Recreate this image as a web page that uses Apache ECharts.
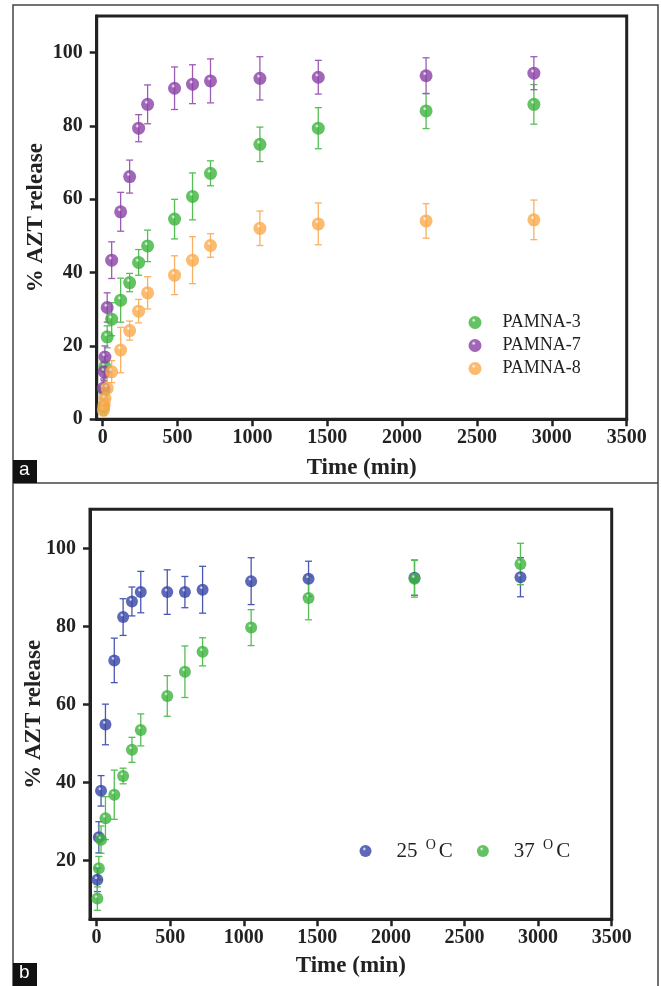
<!DOCTYPE html>
<html><head><meta charset="utf-8">
<script src="https://cdn.jsdelivr.net/npm/echarts@6/dist/echarts.min.js"></script>
<style>html,body{margin:0;padding:0;background:#fff}#c{width:661px;height:986px}</style>
</head><body><div id="c"></div>
<script>
// ---------- Panel a ----------
const timeA = [5, 10, 15, 30, 60, 120, 180, 240, 300, 480, 600, 720, 1050, 1440, 2160, 2880];
const pamna3 =    [3.4, 8.0, 14.3, 22.5, 27.3, 32.5, 37.3, 42.8, 47.3, 54.6, 60.8, 67.1, 75.0, 79.4, 84.1, 85.9];
const pamna3Err = [2.0, 2.5, 3.0, 3.0, 4.5, 6.0, 2.5, 3.5, 4.3, 5.4, 6.4, 3.4, 4.7, 5.6, 4.8, 5.4];
const pamna7 =    [8.5, 13.0, 17.0, 30.5, 43.4, 56.6, 66.2, 79.4, 85.9, 90.3, 91.4, 92.3, 93.0, 93.3, 93.7, 94.4];
const pamna7Err = [2.5, 2.5, 3.0, 4.0, 5.0, 5.3, 4.5, 3.7, 5.3, 5.8, 5.3, 6.0, 5.9, 4.6, 4.9, 4.5];
const pamna8 =    [2.5, 3.9, 5.7, 8.5, 13.0, 18.9, 24.2, 29.5, 34.5, 39.3, 43.4, 47.4, 52.1, 53.3, 54.1, 54.4];
const pamna8Err = [1.5, 2.0, 2.0, 3.0, 3.0, 6.2, 2.6, 3.2, 4.4, 5.3, 6.4, 3.2, 4.7, 5.7, 4.7, 5.4];
const namesA = ['PAMNA-3', 'PAMNA-7', 'PAMNA-8'];

// ---------- Panel b ----------
const timeB = [5, 15, 30, 60, 120, 180, 240, 300, 480, 600, 720, 1050, 1440, 2160, 2880];
const t25 =    [15.1, 26.0, 37.9, 54.9, 71.3, 82.4, 86.4, 88.8, 88.8, 88.8, 89.4, 91.6, 92.2, 92.5, 92.6];
const t25Err = [3.0, 4.0, 3.9, 5.2, 5.7, 4.7, 3.7, 5.3, 5.7, 4.0, 6.0, 6.0, 4.5, 4.5, 5.0];
const t37 =    [10.3, 18.1, 25.4, 30.9, 36.9, 41.7, 48.4, 53.5, 62.2, 68.4, 73.5, 79.7, 87.3, 92.2, 96.0];
const t37Err = [3.0, 3.0, 3.5, 5.5, 6.3, 2.0, 3.2, 4.1, 5.2, 6.6, 3.6, 4.6, 5.6, 4.7, 5.3];
const namesB = ['25 °C', '37 °C'];

const xTicks = [0, 500, 1000, 1500, 2000, 2500, 3000, 3500];
const yTicksA = [0, 20, 40, 60, 80, 100];
const yTicksB = [20, 40, 60, 80, 100];

const SERIF = 'Liberation Serif';
const INK = '#222';

function ball(base, dark) {
  return {type: 'radial', x: 0.4, y: 0.33, r: 0.8,
    colorStops: [{offset: 0, color: '#ffffff'}, {offset: 0.2, color: base}, {offset: 0.75, color: base}, {offset: 1, color: dark}]};
}

function errSeries(idx, times, vals, errs, color) {
  return {
    type: 'custom', name: 'err' + idx + color, xAxisIndex: idx, yAxisIndex: idx, silent: true, z: 2,
    data: times.map((t, i) => [t, vals[i] - errs[i], vals[i] + errs[i]]),
    encode: {x: 0, y: [1, 2]},
    renderItem: function (params, api) {
      const lo = api.coord([api.value(0), api.value(1)]);
      const hi = api.coord([api.value(0), api.value(2)]);
      const w = 3.5, st = {stroke: color, lineWidth: 1.3};
      return {type: 'group', children: [
        {type: 'line', shape: {x1: lo[0], y1: lo[1], x2: hi[0], y2: hi[1]}, style: st},
        {type: 'line', shape: {x1: lo[0] - w, y1: lo[1], x2: lo[0] + w, y2: lo[1]}, style: st},
        {type: 'line', shape: {x1: hi[0] - w, y1: hi[1], x2: hi[0] + w, y2: hi[1]}, style: st}
      ]};
    }
  };
}
function dotSeries(idx, name, times, vals, base, dark, size) {
  return {type: 'scatter', name: name, xAxisIndex: idx, yAxisIndex: idx, z: 3,
    symbol: 'circle', symbolSize: size,
    itemStyle: {color: ball(base, dark)},
    data: times.map((t, i) => [t, vals[i]])};
}

const plain = v => String(v);

function xAxis(idx, min) {
  return {type: 'value', gridIndex: idx, min: min, max: 3500,
    axisLine: {show: true, onZero: false, lineStyle: {color: INK, width: 3}},
    axisTick: {show: true, length: 7, customValues: xTicks, lineStyle: {color: INK, width: 2.5}},
    axisLabel: {customValues: xTicks, formatter: plain, fontFamily: SERIF, fontWeight: 'bold', fontSize: 20, color: INK, margin: 9},
    splitLine: {show: false},
    name: 'Time (min)', nameLocation: 'middle', nameGap: idx === 0 ? 37 : 35, nameMoveOverlap: false,
    nameTextStyle: {fontFamily: SERIF, fontWeight: 'bold', fontSize: 23, color: INK}};
}
function yAxis(idx, min, ticks, gap) {
  return {type: 'value', gridIndex: idx, min: min, max: 110,
    axisLine: {show: true, onZero: false, lineStyle: {color: INK, width: 3}},
    axisTick: {show: true, length: 7, customValues: ticks, lineStyle: {color: INK, width: 2.5}},
    axisLabel: {customValues: ticks, formatter: plain, fontFamily: SERIF, fontWeight: 'bold', fontSize: 20, color: INK, margin: 14},
    splitLine: {show: false},
    name: '% AZT release', nameLocation: 'middle', nameGap: gap, nameRotate: 90, nameMoveOverlap: false,
    nameTextStyle: {fontFamily: SERIF, fontWeight: 'bold', fontSize: 23, color: INK}};
}

const G = '#3cb43c', GD = '#237f23', GE = '#55bf55';
const P = '#8a40a6', PD = '#5e2278', PE = '#9b5db6';
const O = '#fbaa4c', OD = '#e98a22', OE = '#f9b062';
const B = '#3443a6', BD = '#1f2a7a', BE = '#4a58b2';

const option = {
  animation: false,
  backgroundColor: '#ffffff',
  grid: [
    {left: 96.7, top: 16, right: 34.3, bottom: 566.7, show: true, borderColor: INK, borderWidth: 3},
    {left: 90, top: 509.3, right: 49.3, bottom: 66.7, show: true, borderColor: INK, borderWidth: 3}
  ],
  xAxis: [xAxis(0, -40), xAxis(1, -45)],
  yAxis: [yAxis(0, 0, yTicksA, 49), yAxis(1, 5, yTicksB, 44)],
  legend: [
    {data: namesA, orient: 'vertical', left: 468.5, top: 312.5, padding: 0, itemGap: 3,
     icon: 'circle', itemWidth: 13, itemHeight: 13,
     textStyle: {fontFamily: SERIF, fontSize: 18, color: INK, lineHeight: 20, padding: [0, 0, 0, 16]}},
    {data: namesB, orient: 'horizontal', left: 359.5, top: 838, padding: 0, itemGap: 24,
     icon: 'circle', itemWidth: 12, itemHeight: 12,
     formatter: function (n) { return n.replace(' °C', ' {s|O}C'); },
     textStyle: {fontFamily: SERIF, fontSize: 21, color: INK, lineHeight: 26, padding: [0, 0, 0, 20],
       rich: {s: {fontFamily: SERIF, fontSize: 14, color: INK, verticalAlign: 'top', lineHeight: 14, padding: [0, 3, 0, 3]}}}}
  ],
  series: [
    errSeries(0, timeA, pamna3, pamna3Err, GE),
    errSeries(0, timeA, pamna7, pamna7Err, PE),
    errSeries(0, timeA, pamna8, pamna8Err, OE),
    dotSeries(0, namesA[0], timeA, pamna3, G, GD, 13),
    dotSeries(0, namesA[1], timeA, pamna7, P, PD, 13),
    dotSeries(0, namesA[2], timeA, pamna8, O, OD, 13),
    errSeries(1, timeB, t25, t25Err, BE),
    errSeries(1, timeB, t37, t37Err, GE),
    dotSeries(1, namesB[0], timeB, t25, B, BD, 12),
    dotSeries(1, namesB[1], timeB, t37, G, GD, 12)
  ],
  graphic: [
    {type: 'rect', shape: {x: 13, y: 5, width: 645, height: 990}, style: {fill: 'none', stroke: '#444', lineWidth: 1.5}, z: 0},
    {type: 'line', shape: {x1: 13, y1: 483, x2: 658, y2: 483}, style: {stroke: '#444', lineWidth: 1.5}},
    {type: 'rect', shape: {x: 13, y: 460, width: 24, height: 23}, style: {fill: '#111'}},
    {type: 'text', left: 19, top: 460, style: {text: 'a', fill: '#fff', font: '19px "Liberation Sans"'}},
    {type: 'rect', shape: {x: 13, y: 963, width: 24, height: 23}, style: {fill: '#111'}},
    {type: 'text', left: 19, top: 963, style: {text: 'b', fill: '#fff', font: '19px "Liberation Sans"'}}
  ]
};
echarts.init(document.getElementById('c'), null, {renderer: 'canvas'}).setOption(option);
</script>
</body></html>
